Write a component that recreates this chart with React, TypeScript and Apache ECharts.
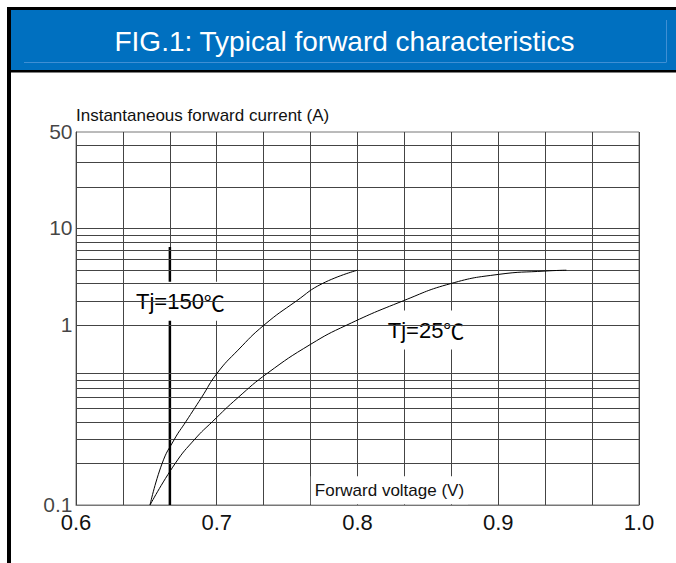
import React, { useEffect, useRef } from "react";
import * as echarts from "echarts";

const TITLE = "FIG.1: Typical forward characteristics";
const Y_NAME = "Instantaneous forward current (A)";
const X_NAME = "Forward voltage (V)";
const FONT = "'Liberation Sans', Arial, 'Noto Sans CJK SC', sans-serif";
const CJK = "'Noto Sans CJK SC', sans-serif";

const X_MIN = 0.6;
const X_MAX = 1.0;
const Y_MIN = 0.1;
const Y_MAX = 50;

// horizontal grid lines (A); the source has no line at 1 A
const H_LINES = [0.2, 0.3, 0.4, 0.5, 0.6, 0.7, 0.8, 0.9, 2, 3, 4, 5, 6, 7, 8, 9, 10, 20, 30, 40];

// y tick texts and where the source prints them (its "1" sits on the 2 A line)
const Y_TICK_TEXT = ["50", "10", "1", "0.1"];
const Y_TICK_AT = [50, 10, 2, 0.1];

// Tj = 150 °C (read at gridline crossings)
const VF_150 = [0.6526, 0.6612, 0.67, 0.678, 0.6892, 0.7003, 0.7151, 0.7335, 0.7567, 0.775, 0.8];
const IF_150 = [0.1, 0.2, 0.3, 0.4, 0.6, 0.9, 1.32, 2.0, 3.0, 4.0, 5.0];

// Tj = 25 °C (read at gridline crossings)
const VF_25 = [0.6526, 0.6705, 0.6845, 0.6968, 0.7152, 0.7361, 0.7667, 0.7922, 0.8324, 0.8662, 0.9, 0.9333, 0.9484];
const IF_25 = [0.1, 0.2, 0.3, 0.4, 0.6, 0.9, 1.455, 2.0, 3.0, 4.0, 4.66, 4.93, 5.0];

// thick marker line at 0.6667 V
const MARK_V = 0.6667;
const MARK_TOP = 7.35;

// in-plot annotations
const NOTE_PREFIX = ["Tj=150", "Tj=25"];
const NOTE_UNIT = "℃";
const NOTE_V = [0.6742, 0.8487];
const NOTE_I = [2.98, 1.85];

const XNAME_V = 0.8227;
const XNAME_I = 0.128;

function headerGraphics(): any[] {
  return [
    { id: "b1", type: "rect", shape: { x: 7, y: 7, width: 669, height: 3 }, style: { fill: "#000" }, z: 100 },
    { id: "b2", type: "rect", shape: { x: 7, y: 7, width: 4, height: 556 }, style: { fill: "#000" }, z: 100 },
    { id: "b3", type: "rect", shape: { x: 11, y: 10, width: 665, height: 60 }, style: { fill: "#0070C0" }, z: 100 },
    { id: "b4", type: "rect", shape: { x: 7, y: 70, width: 669, height: 2.5 }, style: { fill: "#000" }, z: 100 },
    { id: "b5", type: "line", shape: { x1: 24, y1: 62.5, x2: 666, y2: 62.5 }, style: { stroke: "#3f8fd4", lineWidth: 1 }, z: 101 },
    { id: "b6", type: "line", shape: { x1: 666.5, y1: 20, x2: 666.5, y2: 62.5 }, style: { stroke: "#3f8fd4", lineWidth: 1 }, z: 101 },
    {
      id: "title",
      type: "text",
      x: 344.5,
      y: 41,
      z: 102,
      style: {
        text: TITLE,
        fill: "#fff",
        font: `28px ${FONT}`,
        align: "center",
        verticalAlign: "middle",
      },
    },
  ];
}

export default function App() {
  const ref = useRef<HTMLDivElement>(null);

  useEffect(() => {
    if (!ref.current) return;
    const chart = echarts.init(ref.current, null, { renderer: "svg" });

    const option: any = {
      animation: false,
      textStyle: { fontFamily: FONT },
      grid: {
        left: 76,
        right: 37,
        top: 132,
        bottom: 58,
        show: true,
        borderColor: "#777",
        borderWidth: 1,
        backgroundColor: "transparent",
      },
      graphic: headerGraphics(),
      xAxis: {
        type: "value",
        min: X_MIN,
        max: X_MAX,
        interval: 0.1,
        axisLine: { show: true, lineStyle: { color: "#777", width: 1 } },
        axisTick: { show: false },
        axisLabel: {
          fontSize: 22,
          lineHeight: 18,
          color: "#111",
          margin: 8.5,
          formatter: (v: number) => v.toFixed(1),
        },
        splitLine: { show: true, lineStyle: { color: "#444", width: 1 } },
        minorTick: { show: false, splitNumber: 3 },
        minorSplitLine: { show: true, lineStyle: { color: "#444", width: 1 } },
      },
      yAxis: {
        type: "log",
        logBase: 10,
        min: Y_MIN,
        max: Y_MAX,
        name: Y_NAME,
        nameLocation: "end",
        nameGap: 17,
        nameTextStyle: { fontSize: 17, color: "#111", align: "left", verticalAlign: "middle" },
        axisLine: { show: true, lineStyle: { color: "#444", width: 1 } },
        axisTick: { show: false },
        axisLabel: { show: false },
        splitLine: { show: false },
      },
      series: [
        {
          name: "grid",
          type: "line",
          data: [[X_MIN, Y_MIN]],
          symbol: "none",
          lineStyle: { width: 0 },
          silent: true,
          z: 1,
          markLine: {
            silent: true,
            symbol: ["none", "none"],
            label: { show: false },
            lineStyle: { color: "#444", width: 1, type: "solid" },
            data: H_LINES.map((v) => ({ yAxis: v })),
          },
        },
        {
          name: "marker",
          type: "line",
          data: [
            [MARK_V, MARK_TOP],
            [MARK_V, Y_MIN],
          ],
          symbol: "none",
          lineStyle: { color: "#000", width: 2.5 },
          silent: true,
          z: 2,
        },
        {
          name: "ylabels",
          type: "scatter",
          symbolSize: 1,
          itemStyle: { color: "rgba(0,0,0,0)" },
          silent: true,
          z: 3,
          data: Y_TICK_TEXT.map((t, i) => ({
            value: [X_MIN, Y_TICK_AT[i]],
            name: t,
          })),
          label: {
            show: true,
            position: "left",
            distance: 3,
            formatter: "{b}",
            fontSize: 21,
            lineHeight: 16,
            color: "#111",
            offset: [0, -1],
          },
        },
        {
          name: "Tj=150℃",
          type: "line",
          data: VF_150.map((v, i) => [v, IF_150[i]]),
          symbol: "none",
          smooth: 0.5,
          lineStyle: { color: "#000", width: 1 },
          z: 10,
        },
        {
          name: "Tj=25℃",
          type: "line",
          data: VF_25.map((v, i) => [v, IF_25[i]]),
          symbol: "none",
          smooth: 0.5,
          lineStyle: { color: "#000", width: 1 },
          z: 10,
        },
      ],
    };

    chart.setOption(option);

    // annotation boxes placed through the chart's own scales
    const notes: any[] = NOTE_PREFIX.map((p, i) => {
      const [px, py] = chart.convertToPixel({ gridIndex: 0 }, [NOTE_V[i], NOTE_I[i]]) as number[];
      return {
        id: "note" + i,
        type: "text",
        x: px,
        y: py,
        z: 5,
        style: {
          text: `${p}{u|${NOTE_UNIT}}`,
          fill: "#000",
          font: `22px ${FONT}`,
          align: "center",
          verticalAlign: "middle",
          backgroundColor: "#fff",
          padding: [8, 9, 7, 9],
          lineHeight: 24,
          rich: {
            u: { fontFamily: CJK, fontSize: 21, fill: "#000", lineHeight: 24 },
          },
        },
      };
    });
    const [nx, ny] = chart.convertToPixel({ gridIndex: 0 }, [XNAME_V, XNAME_I]) as number[];
    notes.push({
      id: "xname",
      type: "text",
      x: nx,
      y: ny,
      z: 5,
      style: {
        text: X_NAME,
        fill: "#111",
        font: `17px ${FONT}`,
        align: "center",
        verticalAlign: "middle",
        backgroundColor: "#fff",
        padding: [4, 4, 4, 4],
        lineHeight: 20,
      },
    });
    chart.setOption({ graphic: [...headerGraphics(), ...notes] });

    return () => chart.dispose();
  }, []);

  return (
    <div
      ref={ref}
      style={{ position: "absolute", left: 0, top: 0, width: 676, height: 563, background: "#fff" }}
    />
  );
}
